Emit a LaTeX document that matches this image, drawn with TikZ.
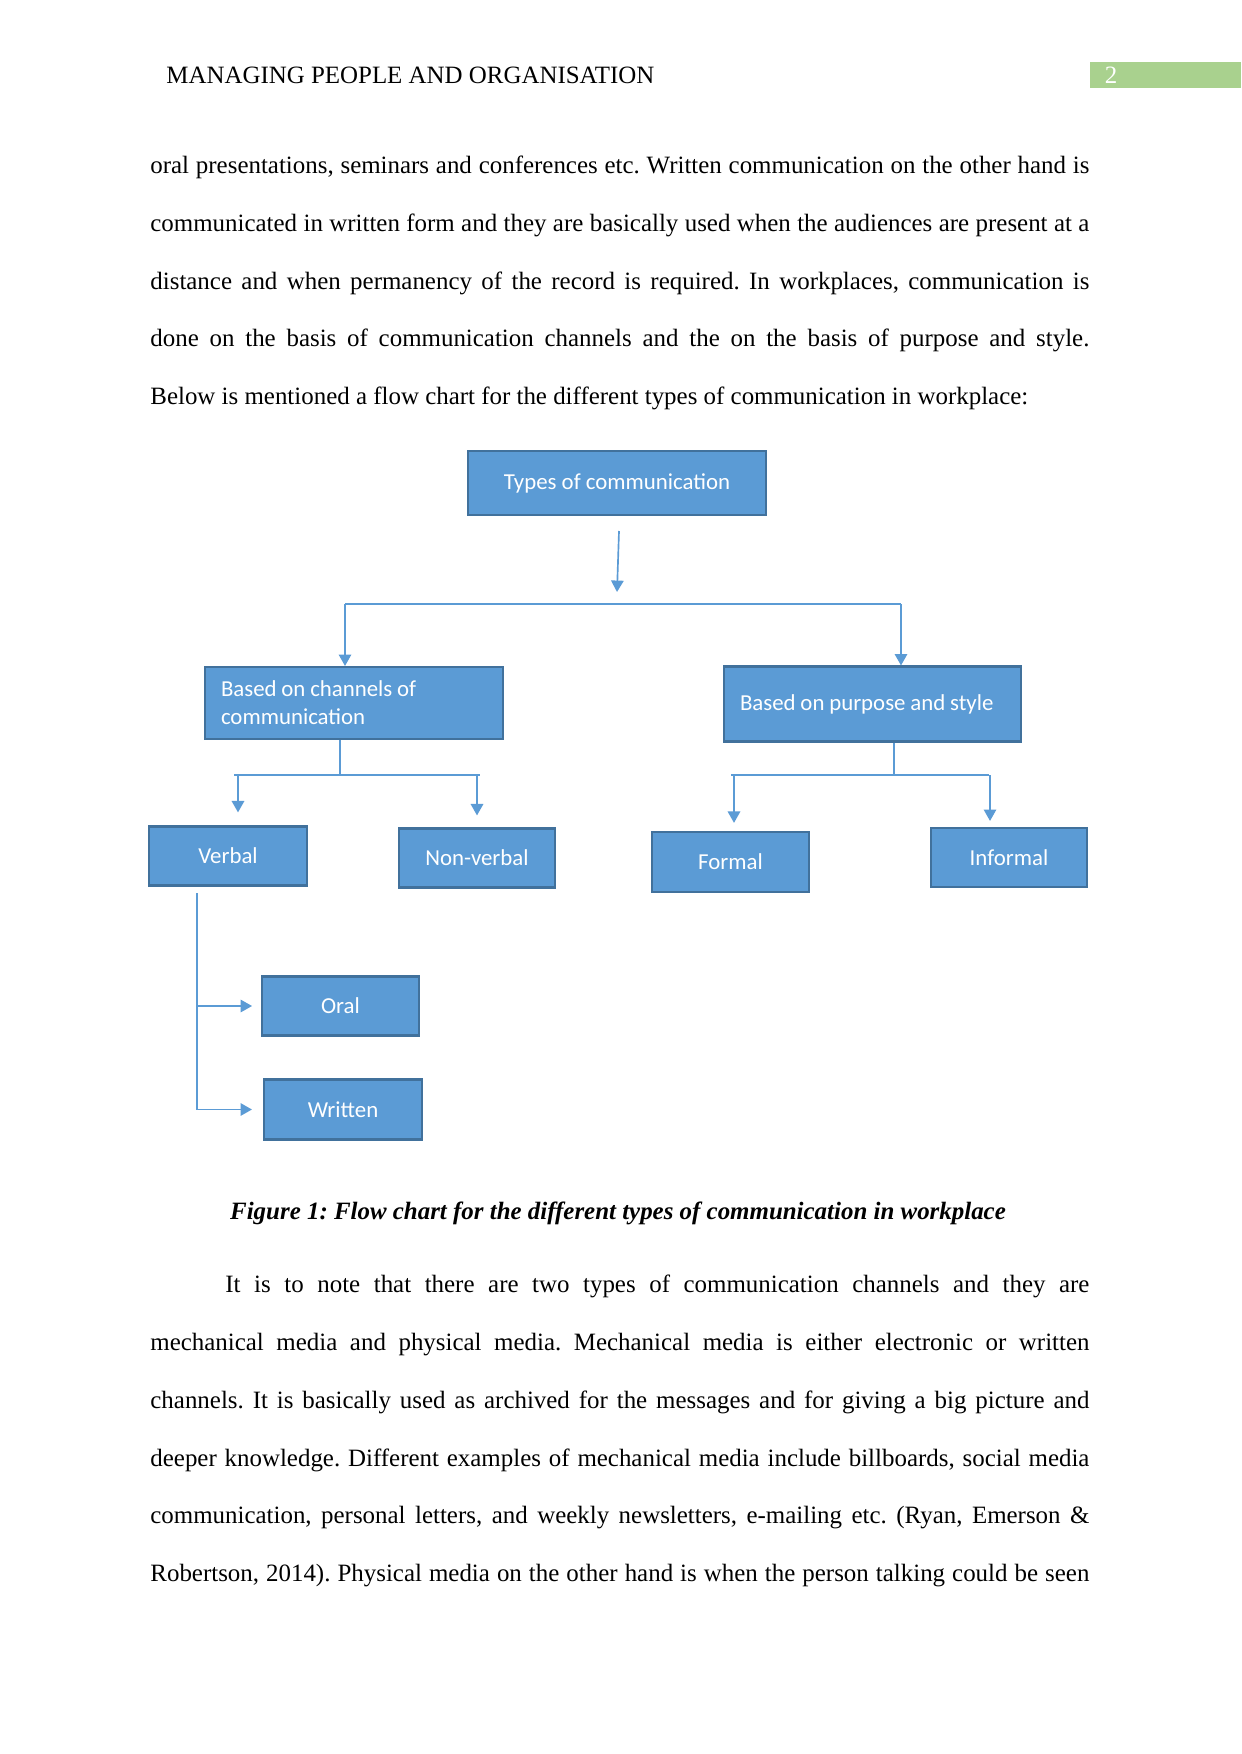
\documentclass[tikz,border=0pt]{standalone}
\usepackage{fontspec}
\setmainfont{Liberation Serif}
\newfontfamily\boxfont{Carlito}
\usepackage{xcolor}
\usetikzlibrary{arrows.meta, positioning, calc}

\definecolor{boxblue}{HTML}{5B9BD5}
\definecolor{boxedge}{HTML}{41719C}
\definecolor{pagegreen}{HTML}{A9D18E}

\newdimen\pxu
\pxu=0.48147pt
\newcommand{\tightsp}{\spaceskip=2.3pt plus 1pt\relax}

\begin{document}
\frenchspacing
\begin{tikzpicture}[x=0.48147pt, y=-0.48147pt, >={Triangle[length=5.5pt,width=6pt]},
	body/.style={anchor=base west, inner sep=0pt, font=\fontsize{12}{14}\selectfont},
	box/.style={draw=boxedge, line width=1pt, fill=boxblue, text=white, inner sep=0pt,
		font=\boxfont\fontsize{11}{13.5}\selectfont},
	leftbox/.style={box, align=left},
	link/.style={draw=boxblue, line width=0.8pt}]
				% ============================================================
				% Strona A4 w pikselach (1241 x 1754), os y w dol
				% ============================================================
				\fill[white] (0,0) rectangle (1241,1754);
				\useasboundingbox (0,0) rectangle (1241,1754);
				
				% === NAGLOWEK ===
				\node[body] (head) at (166,84) {MANAGING PEOPLE AND ORGANISATION};
				\fill[pagegreen] (1090,62) rectangle (1241,88);
				\node[text=white, inner sep=0pt, font=\fontsize{12}{14}\selectfont] (pgnum) at (1111,75) {2};
				
				% === TEKST PRZED SCHEMATEM ===
				\node[body] (l1) at (150,173.5) {\makebox[939\pxu][s]{oral presentations, seminars and conferences etc. Written communication on the other hand is}};
				\node[body] (l2) at (150,231.5) {\makebox[939\pxu][s]{communicated in written form and they are basically used when the audiences are present at a}};
				\node[body] (l3) at (150,289.5) {\makebox[939\pxu][s]{distance and when permanency of the record is required. In workplaces, communication is}};
				\node[body] (l4) at (150,346.5) {\makebox[939\pxu][s]{done on the basis of communication channels and the on the basis of purpose and style.}};
				\node[body] (l5) at (150,404.5) {Below is mentioned a flow chart for the different types of communication in workplace:};
				
				% === 1. PUDELKA ===
				\node[box, minimum width=298\pxu, minimum height=64\pxu] (types) at (617,483) {Types of communication};
				\node[leftbox, minimum width=298\pxu, minimum height=72\pxu, text width=266\pxu] (chan) at (354,703) {\tightsp Based on channels of\\communication};
				\node[leftbox, minimum width=297\pxu, minimum height=75\pxu, text width=265\pxu] (purp) at (872.5,704) {\tightsp Based on purpose and style};
				\node[box, minimum width=158\pxu, minimum height=59\pxu] (verbal) at (228,856) {Verbal};
				\node[box, minimum width=156\pxu, minimum height=59\pxu] (nonverbal) at (477,858) {Non-verbal};
				\node[box, minimum width=157\pxu, minimum height=60\pxu] (formal) at (730.5,862) {Formal};
				\node[box, minimum width=156\pxu, minimum height=59\pxu] (informal) at (1009,857.5) {Informal};
				\node[box, minimum width=157\pxu, minimum height=59\pxu] (oral) at (340.5,1006) {Oral};
				\node[box, minimum width=158\pxu, minimum height=60\pxu] (written) at (343,1109.5) {Written};
				
				% === 2. STRZALKA Z GORY ===
				\coordinate (t1) at (619,531);
				\coordinate (t2) at (617,592);
				\draw[link, ->] (t1) -- (t2);
				
				% === 3. ROZGALEZIENIE GLOWNE ===
				\coordinate (sl) at (345,604);
				\coordinate (sr) at (901,604);
				\draw[link] (sl) -- (sr);
				\draw[link, ->] (sl) -- (sl |- chan.north);
				\draw[link, ->] (sr) -- (sr |- purp.north);
				
				% === 4. KANALY: verbal / non-verbal ===
				\coordinate (cj) at (340,775);
				\coordinate (cl) at (234,775);
				\coordinate (cr) at (480,775);
				\coordinate (ca) at (238,775);
				\coordinate (cb) at (477,775);
				\draw[link] (chan.south -| cj) -- (cj);
				\draw[link] (cl) -- (cr);
				\draw[link, ->, shorten >=6.3pt] (ca) -- (ca |- verbal.north);
				\draw[link, ->, shorten >=5.8pt] (cb) -- (cb |- nonverbal.north);
				
				% === 5. CEL I STYL: formal / informal ===
				\coordinate (pj) at (894,775);
				\coordinate (pl) at (731,775);
				\coordinate (pr) at (989,775);
				\coordinate (pa) at (734,775);
				\coordinate (pb) at (990,775);
				\draw[link] (purp.south -| pj) -- (pj);
				\draw[link] (pl) -- (pr);
				\draw[link, ->, shorten >=3.9pt] (pa) -- (pa |- formal.north);
				\draw[link, ->, shorten >=2.9pt] (pb) -- (pb |- informal.north);
				
				% === 6. VERBAL: oral / written ===
				\coordinate (vtop) at (197,893);
				\coordinate (vbot) at (vtop |- written.west);
				\draw[link] (vtop) -- (vbot);
				\draw[link, ->, shorten >=4.3pt] (vtop |- oral.west) -- (oral.west);
				\draw[link, ->, shorten >=5.3pt] (vbot) -- (written.west);
				
				% === 7. PODPIS ===
				\node[anchor=base, inner sep=0pt, font=\fontsize{12}{14}\selectfont\bfseries\itshape] (cap) at (618,1219) {Figure 1: Flow chart for the different types of communication in workplace};
				
				% === TEKST PO SCHEMACIE ===
				\node[body] (m1) at (225,1292.5) {\makebox[864\pxu][s]{It is to note that there are two types of communication channels and they are}};
				\node[body] (m2) at (150,1350.5) {\makebox[939\pxu][s]{mechanical media and physical media. Mechanical media is either electronic or written}};
				\node[body] (m3) at (150,1408) {\makebox[939\pxu][s]{channels. It is basically used as archived for the messages and for giving a big picture and}};
				\node[body] (m4) at (150,1466) {\makebox[939\pxu][s]{deeper knowledge. Different examples of mechanical media include billboards, social media}};
				\node[body] (m5) at (150,1523) {\makebox[939\pxu][s]{communication, personal letters, and weekly newsletters, e-mailing etc. (Ryan, Emerson \&}};
				\node[body] (m6) at (150,1581) {\makebox[939\pxu][s]{Robertson, 2014). Physical media on the other hand is when the person talking could be seen}};
				
\end{tikzpicture}
\end{document}
